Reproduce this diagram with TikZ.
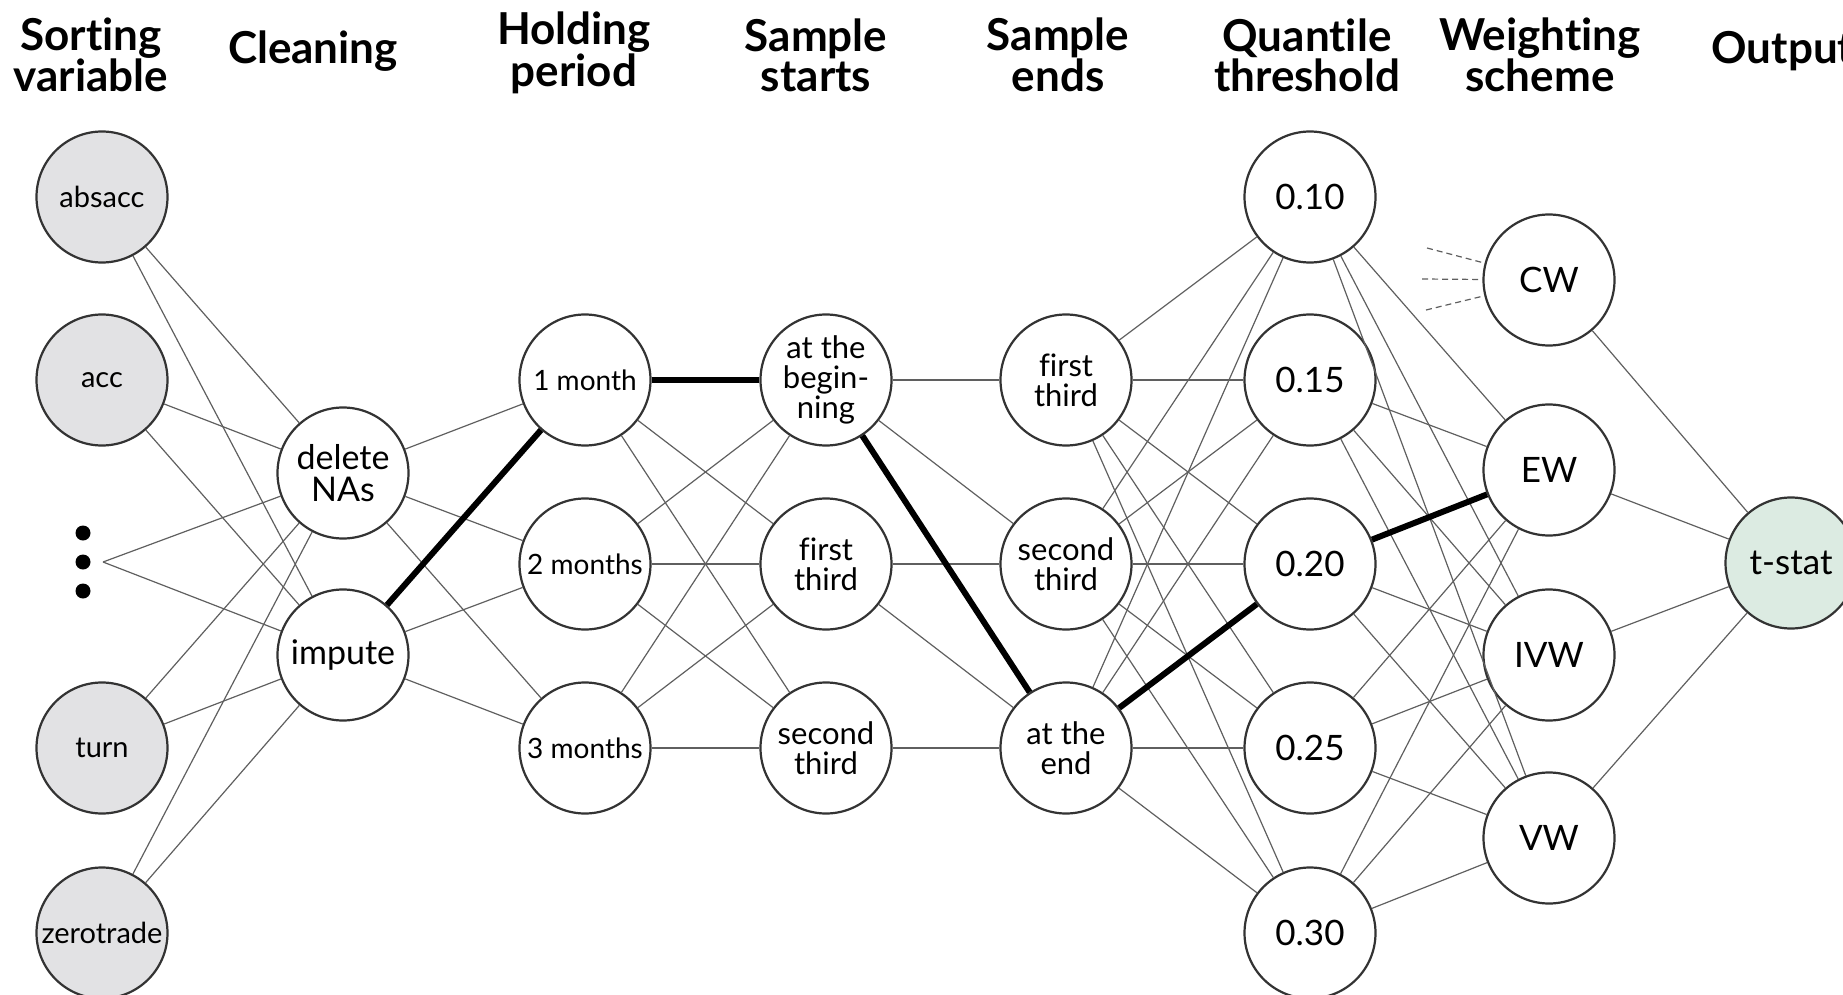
\documentclass[tikz,border=0pt]{standalone}
\usepackage{fontspec}
\setmainfont{Lato}[Ligatures=NoCommon]
\usepackage{tikz}
\usetikzlibrary{positioning}
\definecolor{edgegray}{RGB}{95,95,95}
\definecolor{ringgray}{RGB}{51,51,51}
\definecolor{varfill}{RGB}{226,226,228}
\definecolor{outfill}{RGB}{220,235,226}
\tikzstyle{choice}=[circle,draw=ringgray,line width=2.2pt,fill=white,minimum size=131pt,
                   inner sep=0pt,align=center,font=\fontsize{31}{30}\selectfont]
\tikzstyle{sortvar}=[choice,fill=varfill,font=\fontsize{29}{30}\selectfont]
\tikzstyle{clean}=[choice,font=\fontsize{34}{32}\selectfont]
\tikzstyle{hold}=[choice,font=\fontsize{28}{30}\selectfont]
\tikzstyle{qnum}=[choice,font=\fontsize{35}{35}\selectfont]
\tikzstyle{wnode}=[choice,font=\fontsize{35}{35}\selectfont]
\tikzstyle{colhead}=[align=center,font=\fontsize{44}{40}\selectfont\bfseries]
\tikzstyle{link}=[draw=edgegray,line width=1.2pt]
\tikzstyle{stub}=[link,dash pattern=on 6pt off 4pt]
\tikzstyle{chosen}=[draw=black,line width=6pt]

\begin{document}
\begin{tikzpicture}[x=1pt,y=-1pt]
      \useasboundingbox (0,0) rectangle (1843,995);
      % column titles
      \node[colhead] (t1) at (91,55) {Sorting\\variable};
      \node[colhead] (t2) at (313,51) {Cleaning};
      \node[colhead] (t3) at (574,53) {Holding\\period};
      \node[colhead] (t4) at (816,55) {Sample\\starts};
      \node[colhead] (t5) at (1058,55) {Sample\\ends};
      \node[colhead] (t6) at (1307,55) {Quantile\\threshold};
      \node[colhead] (t7) at (1540,55) {Weighting\\scheme};
      \node[colhead,anchor=west] (t8) at (1708,51) {Output};
      % sorting variables
      \node[sortvar] (v1) at (102,197) {absacc};
      \node[sortvar] (v2) at (102,380) {acc};
      \coordinate (v3) at (103,562);
      \node[sortvar] (v4) at (102,748) {turn};
      \node[sortvar] (v5) at (102,933) {zerotrade};
      \fill (83,533) circle[radius=7.5pt] (83,562) circle[radius=7.5pt] (83,591) circle[radius=7.5pt];
      % cleaning
      \node[clean] (c1) at (343,473) {delete\\NAs};
      \node[clean] (c2) at (343,655) {impute};
      % holding period
      \node[hold] (hp1) at (585,380) {1 month};
      \node[hold] (hp2) at (585,564) {2 months};
      \node[hold] (hp3) at (585,748) {3 months};
      % sample starts
      \node[choice] (ss1) at (826,380) {at the\\begin-\\ning};
      \node[choice] (ss2) at (826,564) {first\\third};
      \node[choice] (ss3) at (826,748) {second\\third};
      % sample ends
      \node[choice] (se1) at (1066,380) {first\\third};
      \node[choice] (se2) at (1066,564) {second\\third};
      \node[choice] (se3) at (1066,748) {at the\\end};
      % quantile threshold
      \node[qnum] (q1) at (1310,197) {0.10};
      \node[qnum] (q2) at (1310,380) {0.15};
      \node[qnum] (q3) at (1310,564) {0.20};
      \node[qnum] (q4) at (1310,748) {0.25};
      \node[qnum] (q5) at (1310,933) {0.30};
      % weighting scheme
      \node[wnode] (w1) at (1549,280) {CW};
      \node[wnode] (w2) at (1549,470) {EW};
      \node[wnode] (w3) at (1549,655) {IVW};
      \node[wnode] (w4) at (1549,838) {VW};
      % output
      \node[choice,fill=outfill,font=\fontsize{35}{35}\selectfont] (out) at (1791,563) {t-stat};
      \coordinate (d1) at (1427,248);
      \coordinate (d2) at (1422,279);
      \coordinate (d3) at (1426,310);
      % connections
      \foreach \a in {v1,v2,v3,v4,v5} \foreach \b in {c1,c2} \draw[link] (\a)--(\b);
      \foreach \a in {c1,c2} \foreach \b in {hp1,hp2,hp3} \draw[link] (\a)--(\b);
      \foreach \a in {hp1,hp2,hp3} \foreach \b in {ss1,ss2,ss3} \draw[link] (\a)--(\b);
      \draw[link] (ss1)--(se1);
      \draw[link] (ss1)--(se2);
      \draw[link] (ss1)--(se3);
      \draw[link] (ss2)--(se2);
      \draw[link] (ss2)--(se3);
      \draw[link] (ss3)--(se3);
      \foreach \a in {se1,se2,se3} \foreach \b in {q1,q2,q3,q4,q5} \draw[link] (\a)--(\b);
      \foreach \a in {q1,q2,q3,q4,q5} \foreach \b in {w2,w3,w4} \draw[link] (\a)--(\b);
      \foreach \a in {w1,w2,w3,w4} \draw[link] (\a)--(out);
      \foreach \a in {d1,d2,d3} \draw[stub] (\a)--(w1);
      % the highlighted specification
      \draw[chosen] (c2)--(hp1);
      \draw[chosen] (hp1)--(ss1);
      \draw[chosen] (ss1)--(se3);
      \draw[chosen] (se3)--(q3);
      \draw[chosen] (q3)--(w2);
    \end{tikzpicture}
\end{document}
